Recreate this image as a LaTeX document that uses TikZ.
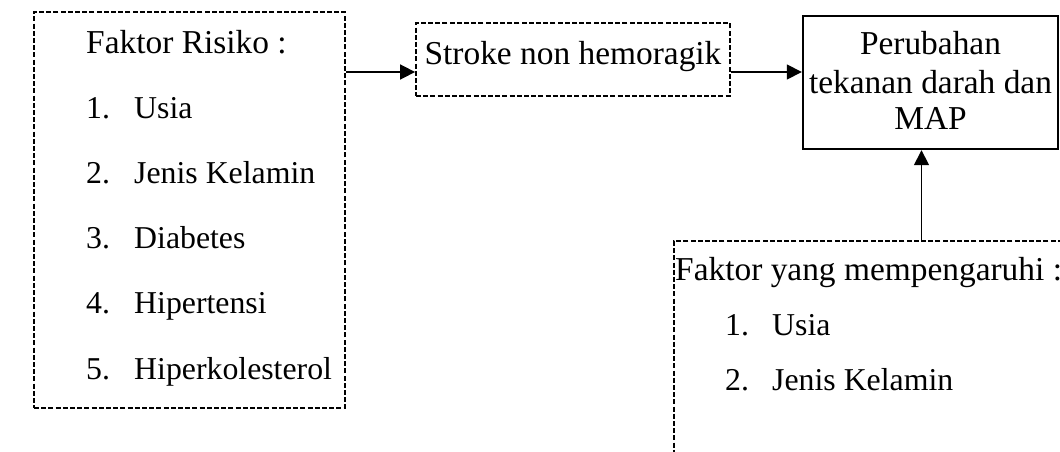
\documentclass[tikz,border=0pt]{standalone}
\usepackage{fontspec}
\setmainfont{Liberation Serif}
\usetikzlibrary{arrows.meta}
\begin{document}
\begin{tikzpicture}[x=1pt,y=-1pt,
  txt/.style={inner sep=0pt,anchor=base west,font=\fontsize{33.4pt}{40pt}\selectfont},
  item/.style={txt,font=\fontsize{31.8pt}{38pt}\selectfont},
  dbox/.style={draw,line width=1.8pt,dash pattern=on 5pt off 2.2pt,inner sep=0pt},
  sbox/.style={draw,line width=2.4pt,inner sep=0pt},
  link/.style={line width=1.6pt,-{Triangle[length=15pt,width=15pt]}}]
\useasboundingbox (0,0) rectangle (1060,452);
\clip (0,0) rectangle (1060,452);

% risk factors
\node[dbox,minimum width=311pt,minimum height=396pt] (risk) at (189.5,210) {};
\node[txt] (rt) at (86,54) {Faktor Risiko :};
\foreach \n/\t [count=\i from 0] in {1/Usia,2/Jenis Kelamin,3/Diabetes,4/Hipertensi,5/Hiperkolesterol}{
  \node[item] (rn\n) at (86,118+65.25*\i) {\n.};
  \node[item] (ri\n) at (134,118+65.25*\i) {\t};
}

% stroke
\node[dbox,minimum width=314pt,minimum height=73pt] (stroke) at (573,59.5) {};
\node[txt,anchor=base] (st) at (573,64) {Stroke non hemoragik};

% outcome
\node[sbox,minimum width=255pt,minimum height=133pt] (map) at (930.5,82.5) {};
\node[txt,anchor=base] (m1) at (930.5,55) {Perubahan};
\node[txt,anchor=base] (m2) at (930.5,93) {tekanan darah dan};
\node[txt,anchor=base] (m3) at (930.5,129) {MAP};

% influencing factors
\node[dbox,minimum width=420pt,minimum height=240pt,anchor=north west] (inf) at (673,240) {};
\node[txt] (it) at (675,280) {Faktor yang mempengaruhi :};
\node[item] (in1) at (725,335) {1.};
\node[item] (ii1) at (772,335) {Usia};
\node[item] (in2) at (725,390) {2.};
\node[item] (ii2) at (772,390) {Jenis Kelamin};

% connectors
\coordinate (row) at (0,72);
\coordinate (col) at (921.5,0);
\draw[link] (risk.east |- row) -- (stroke.west |- row);
\draw[link] (stroke.east |- row) -- (map.west |- row);
\draw[link] (inf.north -| col) -- (map.south -| col);
\end{tikzpicture}
\end{document}
